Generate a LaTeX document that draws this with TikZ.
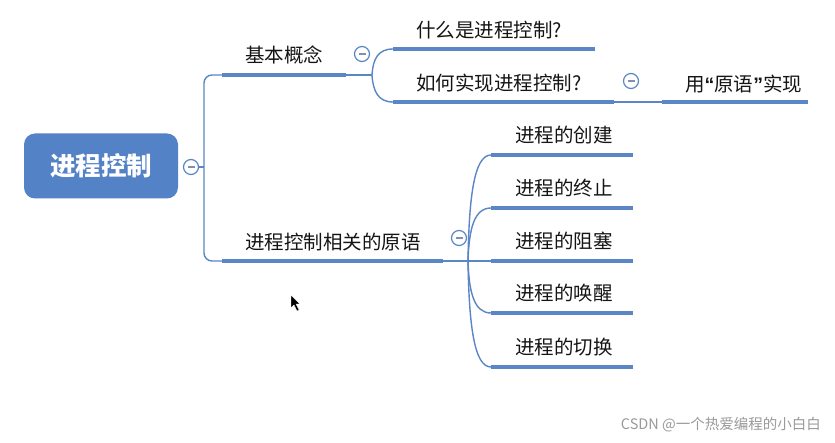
\documentclass[tikz,border=0pt]{standalone}
\usepackage{fontspec}
\newfontfamily\cjk{Noto Sans CJK SC}
\newfontfamily\latq{Liberation Sans}
\definecolor{mblue}{HTML}{5A86C5}
\definecolor{rootblue}{HTML}{5382C6}
\definecolor{minusc}{HTML}{7F8FB0}
\definecolor{txt}{HTML}{151515}
\definecolor{wm}{HTML}{9A9A9A}
\begin{document}
\begin{tikzpicture}[x=1pt,y=-1pt,
  thinl/.style={draw=mblue, line width=1.4pt},
  thickl/.style={draw=mblue, line width=4.3pt},
  lbl/.style={anchor=west, inner sep=0, text=txt, font=\cjk\fontsize{19.5}{22}\selectfont},
  rootbox/.style={rounded corners=11pt, fill=rootblue, text=white, minimum width=154pt, minimum height=65pt, inner sep=0, font=\cjk\bfseries\fontsize{25.5}{28}\selectfont},
  collapse/.style={circle, draw=mblue, fill=white, line width=1.2pt, minimum size=15pt, inner sep=0,
    path picture={\draw[minusc, line width=1.6pt] ([xshift=-3.5pt]path picture bounding box.center) -- ([xshift=3.5pt]path picture bounding box.center);}}
]
\useasboundingbox (0,0) rectangle (835,443);
\fill[white] (0,0) rectangle (835,443);

% root
\node[rootbox] (root) at (101,166) {进程控制};
\node[collapse] (c0) at (191,167) {};
\coordinate (j0) at (204,167);
\coordinate (a1) at (222,75);
\coordinate (a2) at (222,261);
\draw[thinl] (c0.east) -- (j0);
\draw[thinl, rounded corners=8pt] (a1) -- (204,75) -- (204,261) -- (a2);

% branch 1
\coordinate (b1e) at (346,75);
\coordinate (b1j) at (372,75);
\draw[thickl] (a1) -- (b1e);
\draw[thinl] (b1e) -- (b1j);
\node[lbl, anchor=center] (b1) at (284,55) {基本概念};
\node[collapse] (c1) at (362,54) {};

\coordinate (k1s) at (393,49);
\coordinate (k1e) at (595,49);
\coordinate (k2s) at (393,102);
\coordinate (k2e) at (614,102);
\draw[thinl] (b1j) .. controls (373,59) and (378,49) .. (k1s);
\draw[thinl] (b1j) .. controls (373,91) and (378,102) .. (k2s);
\draw[thickl] (k1s) -- (k1e);
\draw[thickl] (k2s) -- (k2e);
\node[lbl] (k1) at (416,30) {什么是进程控制?};
\node[lbl] (k2) at (416,83) {如何实现进程控制?};
\node[collapse] (c12) at (631,81) {};
\coordinate (m1s) at (662,102);
\coordinate (m1e) at (808,102);
\draw[thinl] (k2e) -- (m1s);
\draw[thickl] (m1s) -- (m1e);
\node[lbl] (m1) at (685,84) {用{\latq\bfseries“}原语{\latq\bfseries”}实现};

% branch 2
\coordinate (b2e) at (443,261);
\coordinate (b2j) at (468,261);
\draw[thickl] (a2) -- (b2e);
\draw[thinl] (b2e) -- (b2j);
\node[lbl] (b2) at (245,242) {进程控制相关的原语};
\node[collapse] (c2) at (459,238) {};

\foreach \y/\t/\n in {155/进程的创建/p1, 208/进程的终止/p2, 261/进程的阻塞/p3, 313/进程的唤醒/p4, 367/进程的切换/p5}{
  \coordinate (\n s) at (491,\y);
  \coordinate (\n e) at (633,\y);
  \draw[thinl] (b2j) .. controls (469,{261+0.6*(\y-261)}) and (474,\y) .. (\n s);
  \draw[thickl] (\n s) -- (\n e);
  \node[lbl] (\n) at (515,\y-20) {\t};
}

% mouse cursor
\coordinate (cur) at (291,295);
\filldraw[fill=black, draw=white, line width=0.4pt] (cur) -- ++(0,13) -- ++(3,-3) -- ++(3,6) -- ++(2,-1) -- ++(-3,-6) -- ++(4,0) -- cycle;

% watermark
\node[anchor=east, inner sep=0, text=wm, font=\cjk\fontsize{14.5}{17}\selectfont] (wmk) at (821,425) {CSDN @一个热爱编程的小白白};
\end{tikzpicture}
\end{document}
